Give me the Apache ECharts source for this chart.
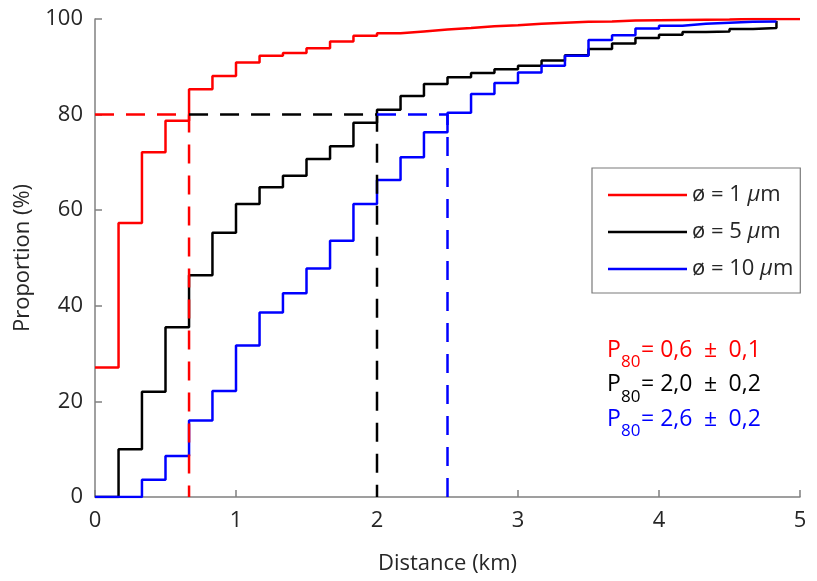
<!DOCTYPE html>
<html>
<head>
<meta charset="utf-8">
<script src="https://cdn.jsdelivr.net/npm/echarts@6/dist/echarts.min.js"></script>
<style>html,body{margin:0;padding:0;background:#fff;}#c{width:817px;height:581px;}</style>
</head>
<body>
<div id="c"></div>
<script>
// Bin edges (km)
const distanceKm = [0, 0.167, 0.333, 0.5, 0.667, 0.833, 1, 1.167, 1.333, 1.5, 1.667, 1.833, 2, 2.167, 2.333, 2.5, 2.667, 2.833, 3, 3.167, 3.333, 3.5, 3.667, 3.833, 4, 4.167, 4.333, 4.5, 4.667, 4.833, 5];
// Cumulative proportion (%)
const prop1um = [27.1, 57.3, 72.1, 78.7, 85.3, 88.1, 90.9, 92.3, 92.9, 93.9, 95.3, 96.5, 97.0, 97.4, 97.8, 98.1, 98.5, 98.7, 99.0, 99.2, 99.4, 99.5, 99.7, 99.75, 99.8, 99.85, 99.9, 100, 100, 100, 100];
const prop5um = [0, 10.0, 22.0, 35.5, 46.4, 55.3, 61.3, 64.8, 67.2, 70.7, 73.4, 78.3, 81.0, 83.9, 86.4, 87.8, 88.7, 89.5, 90.2, 91.3, 92.4, 93.7, 94.9, 96.0, 96.7, 97.3, 97.4, 97.9, 98.1, 99.6];
const prop10um = [0, 0, 3.6, 8.6, 16.0, 22.2, 31.7, 38.6, 42.6, 47.8, 53.6, 61.3, 66.3, 71.1, 76.3, 80.4, 84.3, 86.6, 88.8, 90.2, 92.3, 95.6, 96.6, 98.0, 98.6, 99.0, 99.2, 99.4, 99.5, 99.6];
const seriesNames = ['ø = 1 μm', 'ø = 5 μm', 'ø = 10 μm'];
const seriesColors = ['#ff0000', '#000000', '#0000ff'];
// P80 markers
const p80Level = 80;
const p80Km = [0.667, 2.0, 2.5];
const p80Text = ['= 0,6\u2002±\u20020,1', '= 2,0\u2002±\u20020,2', '= 2,6\u2002±\u20020,2'];

const FONT = '"Open Sans", "Noto Sans", sans-serif';
const allProps = [prop1um, prop5um, prop10um];

const series = [];
allProps.forEach((vals, i) => {
  series.push({
    name: seriesNames[i],
    type: 'line',
    step: 'end',
    showSymbol: false,
    symbol: 'none',
    data: vals.map((v, k) => [distanceKm[k], v]),
    lineStyle: { color: seriesColors[i], width: 2.5 },
    itemStyle: { color: seriesColors[i] },
    z: 2,
    animation: false
  });
});
p80Km.forEach((x, i) => {
  const start = i === 0 ? 0 : p80Km[i - 1];
  series.push({
    name: 'p80_' + i,
    type: 'line',
    showSymbol: false,
    symbol: 'none',
    data: [[start, p80Level], [x, p80Level], [x, 0]],
    lineStyle: { color: seriesColors[i], width: 2.5, type: [19, 12] },
    z: 3,
    animation: false
  });
});

const graphics = [];
p80Text.forEach((t, i) => {
  const yc = 355 + i * 34.3;
  graphics.push({ type: 'text', left: 607, top: yc - 16, style: { text: 'P', font: '23px ' + FONT, fill: seriesColors[i] } });
  graphics.push({ type: 'text', left: 621, top: yc - 1, style: { text: '80', font: '17px ' + FONT, fill: seriesColors[i] } });
  graphics.push({ type: 'text', left: 641, top: yc - 16, style: { text: t, font: '23px ' + FONT, fill: seriesColors[i] } });
});

const chart = echarts.init(document.getElementById('c'), null, { renderer: 'canvas' });
chart.setOption({
  backgroundColor: '#fff',
  animation: false,
  grid: { left: 95, right: 17, top: 19, bottom: 84, containLabel: false, outerBoundsMode: 'none' },
  xAxis: {
    type: 'value', min: 0, max: 5, interval: 1,
    name: 'Distance (km)', nameLocation: 'middle', nameGap: 56,
    nameTextStyle: { fontFamily: FONT, fontSize: 22, color: '#262626' },
    axisLine: { lineStyle: { color: '#808080', width: 1.5 } },
    axisTick: { inside: true, length: 7, lineStyle: { color: '#808080', width: 1.5 } },
    axisLabel: { fontFamily: FONT, fontSize: 22, color: '#262626', margin: 13 },
    splitLine: { show: false }
  },
  yAxis: {
    type: 'value', min: 0, max: 100, interval: 20,
    name: 'Proportion (%)', nameLocation: 'middle', nameGap: 61,
    nameTextStyle: { fontFamily: FONT, fontSize: 22, color: '#262626' },
    axisLine: { show: true, lineStyle: { color: '#808080', width: 1.5 } },
    axisTick: { show: true, inside: true, length: 7, lineStyle: { color: '#808080', width: 1.5 } },
    axisLabel: { fontFamily: FONT, fontSize: 22, color: '#262626', margin: 12 },
    splitLine: { show: false }
  },
  legend: {
    data: seriesNames,
    orient: 'vertical',
    left: 592, top: 168,
    icon: 'rect',
    itemWidth: 79, itemHeight: 2.5, itemGap: 15,
    padding: [16, 7, 13, 16],
    borderColor: '#7a7a7a', borderWidth: 1.2,
    backgroundColor: '#fff',
    formatter: n => n.replace('μ', '{i|μ}'),
    textStyle: {
      fontFamily: FONT, fontSize: 22, color: '#262626',
      rich: { i: { fontFamily: FONT, fontSize: 22, fontStyle: 'italic', color: '#262626' } }
    }
  },
  graphic: graphics,
  series: series
});
</script>
</body>
</html>
